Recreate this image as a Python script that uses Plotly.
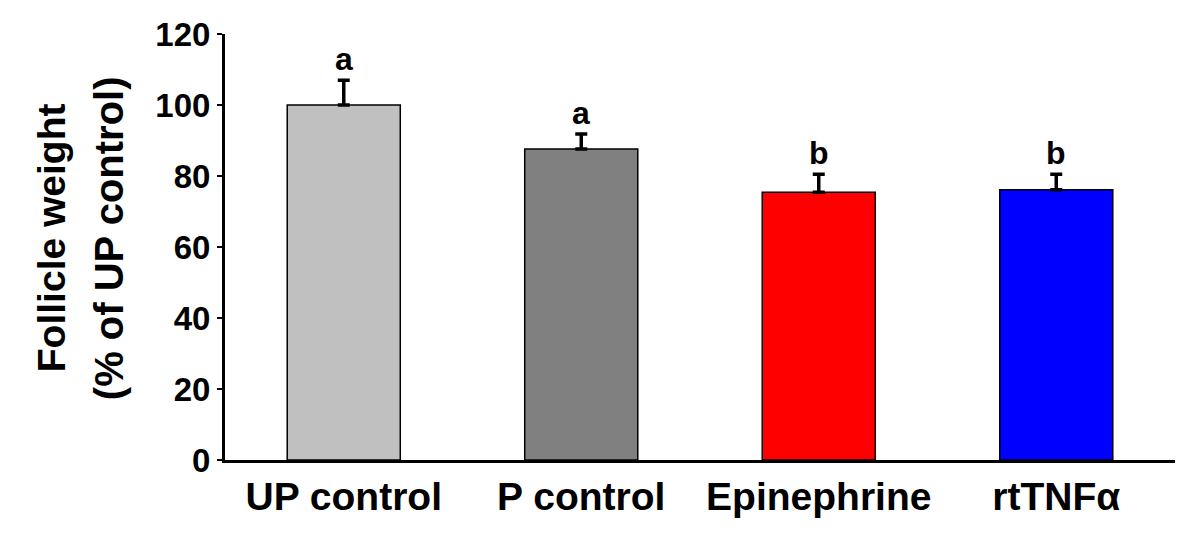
import plotly.graph_objects as go

categories = ["UP control", "P control", "Epinephrine", "rtTNFα"]
values = [100.0, 87.6, 75.4, 76.1]
errors = [7.0, 4.2, 5.1, 4.4]
letters = ["a", "a", "b", "b"]
colors = ["#C0C0C0", "#808080", "#FF0000", "#0000FF"]
y_ticks = [0, 20, 40, 60, 80, 100, 120]

FONT = "Liberation Sans, Arial, sans-serif"

fig = go.Figure()
fig.add_trace(go.Bar(
    x=categories, y=values,
    marker=dict(color=colors, line=dict(color="black", width=1.5)),
    error_y=dict(type="data", symmetric=False, array=errors,
                 arrayminus=[0] * len(errors), color="black",
                 thickness=3.5, width=6),
    width=0.476,
))

for c, v, e, l in zip(categories, values, errors, letters):
    fig.add_annotation(x=c, y=v + e, text=l, showarrow=False,
                       yanchor="bottom", yshift=1,
                       font=dict(family=FONT, size=32, color="black", weight="bold"))

fig.add_annotation(xref="paper", yref="paper", x=-0.183, y=0.521,
                   text="Follicle weight", textangle=-90, showarrow=False,
                   xanchor="center", yanchor="middle",
                   font=dict(family=FONT, size=39, color="black", weight="bold"))
fig.add_annotation(xref="paper", yref="paper", x=-0.122, y=0.521,
                   text="(% of UP control)", textangle=-90, showarrow=False,
                   xanchor="center", yanchor="middle",
                   font=dict(family=FONT, size=40, color="black", weight="bold"))

fig.update_layout(
    width=1192, height=541,
    margin=dict(l=217, r=25, t=26, b=89),
    plot_bgcolor="white", paper_bgcolor="white",
    showlegend=False,
    xaxis=dict(range=[-0.5, 3.5], showline=True, linecolor="black", linewidth=3,
               ticks="", showgrid=False, zeroline=False, automargin=False,
               tickfont=dict(family=FONT, size=39, color="black", weight="bold")),
    yaxis=dict(range=[0, 120], tickvals=y_ticks, showline=True, linecolor="black",
               linewidth=3, ticks="outside", ticklen=5, tickwidth=2, tickcolor="black",
               showgrid=False, zeroline=False, automargin=False,
               tickfont=dict(family=FONT, size=33, color="black", weight="bold")),
)

fig.write_html("out.html")
